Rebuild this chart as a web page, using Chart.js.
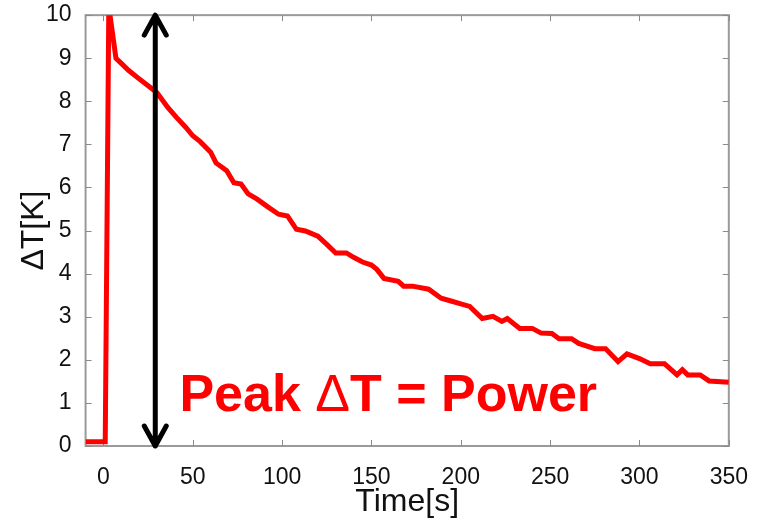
<!DOCTYPE html>
<html>
<head>
<meta charset="utf-8">
<script src="https://cdn.jsdelivr.net/npm/chart.js@4"></script>
<style>
  html, body { margin: 0; padding: 0; background: #fff; }
  #wrap { width: 768px; height: 520px; }
</style>
</head>
<body>
<div id="wrap"><canvas id="c" width="768" height="520"></canvas></div>
<script>
const timeS = [-10, 1, 3, 7, 10, 14, 20, 25, 30, 36, 41, 46, 50, 54, 60, 63, 69, 73, 77, 81, 86, 92, 98, 103, 108, 113, 120, 125, 130, 136, 140, 145, 150, 153, 157, 165, 168, 173, 182, 189, 195, 200, 205, 212, 218, 223, 226, 233, 240, 245, 251, 255, 262, 266, 275, 281, 288, 293, 300, 306, 314, 321, 324, 327, 334, 339, 350];
const deltaT = [0.1, 0.1, 10.2, 9.0, 8.88, 8.72, 8.52, 8.36, 8.2, 7.86, 7.62, 7.40, 7.2, 7.07, 6.82, 6.57, 6.39, 6.11, 6.08, 5.85, 5.73, 5.55, 5.38, 5.34, 5.03, 4.99, 4.87, 4.68, 4.48, 4.48, 4.38, 4.27, 4.20, 4.10, 3.89, 3.82, 3.71, 3.71, 3.64, 3.43, 3.36, 3.30, 3.24, 2.96, 3.01, 2.89, 2.96, 2.73, 2.73, 2.62, 2.61, 2.49, 2.49, 2.38, 2.26, 2.26, 1.96, 2.14, 2.03, 1.91, 1.91, 1.65, 1.77, 1.65, 1.65, 1.51, 1.48];
const xTicks = [0, 50, 100, 150, 200, 250, 300, 350];
const yTicks = [0, 1, 2, 3, 4, 5, 6, 7, 8, 9, 10];
const arrowX = 29;
const arrowRange = [0, 10];
const annotParts = ["Peak ", "\u0394", "T = Power"];
const annotPos = [42.5, 0.82];

const points = timeS.map((t, i) => ({ x: t, y: deltaT[i] }));
const FAM = '"Liberation Sans", Arial, Helvetica, sans-serif';

const framePlugin = {
  id: 'frame',
  beforeDatasetsDraw(chart) {
    const { ctx, chartArea: a, scales } = chart;
    ctx.save();
    ctx.strokeStyle = '#9a9a9a';
    ctx.lineWidth = 2;
    ctx.strokeRect(a.left, a.top, a.right - a.left, a.bottom - a.top);
    ctx.lineWidth = 1;
    ctx.strokeStyle = '#8a8a8a';
    const tl = 6;
    ctx.beginPath();
    xTicks.forEach(v => {
      const px = Math.round(scales.x.getPixelForValue(v)) + 0.5;
      ctx.moveTo(px, a.bottom); ctx.lineTo(px, a.bottom - tl);
      ctx.moveTo(px, a.top); ctx.lineTo(px, a.top + tl);
    });
    yTicks.forEach(v => {
      const py = Math.round(scales.y.getPixelForValue(v)) + 0.5;
      ctx.moveTo(a.left, py); ctx.lineTo(a.left + tl, py);
      ctx.moveTo(a.right, py); ctx.lineTo(a.right - tl, py);
    });
    ctx.stroke();
    ctx.restore();
  },
  afterDatasetsDraw(chart) {
    const { ctx, scales } = chart;
    const x = scales.x.getPixelForValue(arrowX);
    const y0 = scales.y.getPixelForValue(arrowRange[0]);
    const y1 = scales.y.getPixelForValue(arrowRange[1]);
    ctx.save();
    ctx.strokeStyle = '#000';
    ctx.lineWidth = 5;
    ctx.lineCap = 'round';
    ctx.lineJoin = 'round';
    ctx.beginPath();
    ctx.moveTo(x, y0); ctx.lineTo(x, y1);
    const hw = 11, hh = 20;
    ctx.moveTo(x - hw, y1 + hh); ctx.lineTo(x, y1); ctx.lineTo(x + hw, y1 + hh);
    ctx.moveTo(x - hw, y0 - hh); ctx.lineTo(x, y0); ctx.lineTo(x + hw, y0 - hh);
    ctx.stroke();
    ctx.fillStyle = '#ff0000';
    ctx.textBaseline = 'alphabetic';
    ctx.textAlign = 'left';
    let tx = scales.x.getPixelForValue(annotPos[0]);
    const ty = scales.y.getPixelForValue(annotPos[1]);
    annotParts.forEach((p, i) => {
      ctx.font = (i === 1 ? '' : 'bold ') + '52px ' + FAM;
      ctx.fillText(p, tx, ty);
      tx += ctx.measureText(p).width;
    });
    ctx.restore();
  }
};

new Chart(document.getElementById('c'), {
  type: 'line',
  data: {
    datasets: [{
      data: points,
      borderColor: '#ff0000',
      borderWidth: 5,
      pointRadius: 0,
      tension: 0,
      fill: false
    }]
  },
  options: {
    responsive: false,
    animation: false,
    events: [],
    plugins: { legend: { display: false }, tooltip: { enabled: false } },
    layout: { padding: { left: 0, right: 39, top: 14, bottom: 0 } },
    scales: {
      x: {
        type: 'linear',
        min: -10,
        max: 350,
        afterBuildTicks: s => { s.ticks = xTicks.map(v => ({ value: v })); },
        grid: { display: false, drawTicks: false },
        border: { display: false },
        ticks: { color: '#111', padding: 20, maxRotation: 0, font: { family: FAM, size: 23, lineHeight: 1.0 } },
        title: { display: true, text: 'Time[s]', color: '#111', padding: { top: -23, bottom: 2 }, font: { family: FAM, size: 32, lineHeight: 1.0 } }
      },
      y: {
        type: 'linear',
        min: 0,
        max: 10,
        afterBuildTicks: s => { s.ticks = yTicks.map(v => ({ value: v })); },
        grid: { display: false, drawTicks: false },
        border: { display: false },
        ticks: { color: '#111', padding: 14, font: { family: FAM, size: 23, lineHeight: 0.1 } },
        title: { display: true, text: '\u0394T[K]', color: '#111', padding: { top: 18, bottom: -18 }, font: { family: FAM, size: 32, lineHeight: 1.0 } }
      }
    }
  },
  plugins: [framePlugin]
});
</script>
</body>
</html>
